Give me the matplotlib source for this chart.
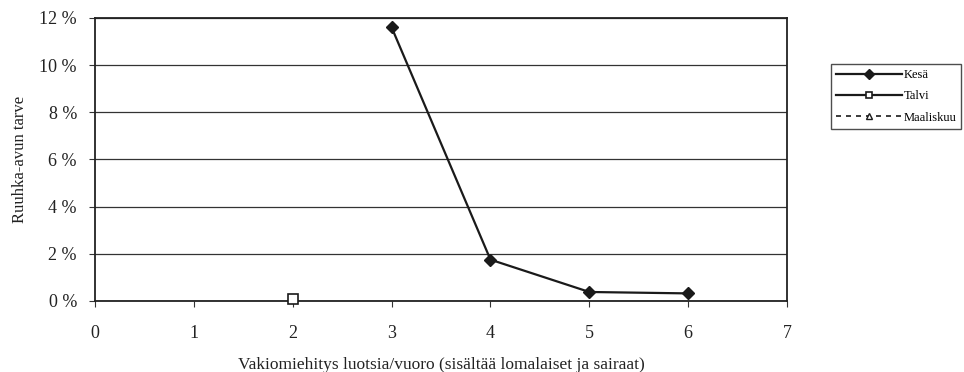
import numpy as np
import matplotlib.pyplot as plt
from matplotlib.ticker import FuncFormatter

plt.rcParams['font.family'] = ['Liberation Serif', 'DejaVu Serif']

# Ruuhka-avun tarve vakiomiehityksen mukaan
kesa_x = [3, 4, 5, 6]
kesa_y = [11.6, 1.75, 0.38, 0.32]
talvi_x = [2]
talvi_y = [0.1]
maalis_x = []
maalis_y = []

fig = plt.figure(figsize=(9.64, 3.72), dpi=100)
ax = fig.add_axes([0.0985, 0.191, 0.718, 0.761])

ax.plot(kesa_x, kesa_y, color='#1a1a1a', lw=1.6, marker='D', ms=6.5,
        mfc='#1a1a1a', mec='#1a1a1a', label='Kesä', zorder=3, clip_on=False)
ax.plot(talvi_x, talvi_y, color='#1a1a1a', lw=1.6, marker='s', ms=6.5,
        mfc='white', mec='#1a1a1a', mew=1.2, label='Talvi', zorder=3, clip_on=False)
ax.plot(maalis_x, maalis_y, color='#1a1a1a', lw=1.2, ls=(0, (3, 3)), marker='^',
        ms=5, mfc='white', mec='#1a1a1a', label='Maaliskuu', zorder=3)

ax.set_xlim(0, 7)
ax.set_ylim(0, 12)
ax.set_xticks(range(8))
ax.set_yticks(np.arange(0, 13, 2))
ax.yaxis.set_major_formatter(FuncFormatter(lambda v, p: f'{int(v)} %'))
ax.grid(axis='y', color='#333333', lw=0.9)
ax.set_axisbelow(True)
for s in ax.spines.values():
    s.set_color('#222222')
    s.set_linewidth(1.3)
ax.tick_params(axis='both', direction='out', length=4, width=0.8, color='#333333',
               labelsize=13, colors='#222222')
ax.tick_params(axis='x', pad=13)
ax.tick_params(axis='y', pad=9)

ax.set_xlabel('Vakiomiehitys luotsia/vuoro (sisältää lomalaiset ja sairaat)',
              fontsize=12.5, labelpad=11, color='#222222')
ax.set_ylabel('Ruuhka-avun tarve', fontsize=12, labelpad=8, color='#222222')

leg = fig.legend(loc='upper left', bbox_to_anchor=(0.862, 0.828), fontsize=9,
                 frameon=True, fancybox=False, edgecolor='#222222',
                 handlelength=5.3, handletextpad=0.1, borderpad=0.4,
                 borderaxespad=0, labelspacing=0.75, markerscale=0.75)
leg.get_frame().set_linewidth(1.0)

fig.savefig('out.png', dpi=100)
